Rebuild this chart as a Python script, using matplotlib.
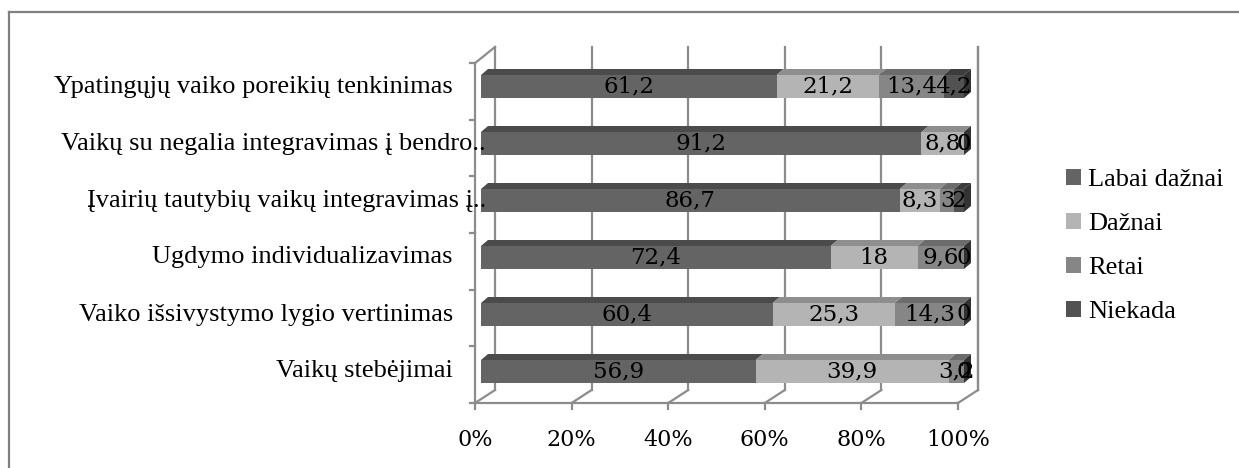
import matplotlib
matplotlib.use("Agg")
import matplotlib.pyplot as plt
from matplotlib.patches import Polygon
from matplotlib.lines import Line2D
import numpy as np

# data, top row first
categories = [
    "Ypatingųjų vaiko poreikių tenkinimas",
    "Vaikų su negalia integravimas į bendro..",
    "Įvairių tautybių vaikų integravimas į..",
    "Ugdymo individualizavimas",
    "Vaiko išsivystymo lygio vertinimas",
    "Vaikų stebėjimai",
]
series_names = ["Labai dažnai", "Dažnai", "Retai", "Niekada"]
labai_daznai = [61.2, 91.2, 86.7, 72.4, 60.4, 56.9]
daznai = [21.2, 8.8, 8.3, 18, 25.3, 39.9]
retai = [13.4, 0, 3, 9.6, 14.3, 3.2]
niekada = [4.2, 0, 2, 0, 0, 0]
x_ticks = [0, 20, 40, 60, 80, 100]

front_colors = ["#646464", "#b4b4b4", "#868686", "#525252"]
top_colors = ["#4b4b4b", "#8e8e8e", "#6c6c6c", "#3c3c3c"]
side_color = "#333333"
grid_color = "#8c8c8c"

W, H = 1239, 468
fig = plt.figure(figsize=(W / 100, H / 100), dpi=100)

# axes placed so data x=0 -> 481px, x=100 -> 964px ; y row0 -> 371.5px, 57px per row
xlim = (-2, 104)
ylim = (-0.7, 5.8)
px_x = 4.83
px_y = 57
left_px = 481 + xlim[0] * px_x
right_px = 481 + xlim[1] * px_x
bot_px = 371.5 - ylim[0] * px_y
top_px = 371.5 - ylim[1] * px_y
ax = fig.add_axes([left_px / W, 1 - bot_px / H, (right_px - left_px) / W, (bot_px - top_px) / H])
ax.set_xlim(*xlim)
ax.set_ylim(*ylim)
ax.axis("off")

# 3d geometry (data units)
dx, dy = 7 / px_x, 6 / px_y
front_off = -6 / px_x      # front floor / wall plane
back_off = 14 / px_x       # back wall plane
floor_front = -0.553
floor_back = -0.325
wall_top_back = 5.693
wall_top_front = 5.41
lw = 1.6

# back wall gridlines + floor
for p in x_ticks:
    ax.plot([p + back_off, p + back_off], [floor_back, wall_top_back], color=grid_color, lw=lw, zorder=0, clip_on=False)
    ax.plot([p + front_off, p + back_off], [floor_front, floor_back], color=grid_color, lw=lw, zorder=0, clip_on=False)
    ax.plot([p + front_off, p + front_off], [floor_front, floor_front - 0.1], color=grid_color, lw=lw, zorder=0, clip_on=False)
    ax.text(p + front_off, floor_front - 0.64, f"{p}%", ha="center", va="center",
            fontsize=16, family="DejaVu Serif", clip_on=False)
ax.plot([x_ticks[0] + front_off, x_ticks[-1] + front_off], [floor_front, floor_front],
        color=grid_color, lw=lw, zorder=0, clip_on=False)
ax.plot([x_ticks[-1] + back_off, x_ticks[-1] + back_off], [floor_back, wall_top_back],
        color=grid_color, lw=lw, zorder=0, clip_on=False)

# left wall
ax.plot([front_off, front_off], [floor_front, wall_top_front], color=grid_color, lw=lw, zorder=0, clip_on=False)
ax.plot([front_off, back_off], [wall_top_front, wall_top_back], color=grid_color, lw=lw, zorder=0, clip_on=False)
for yt in np.linspace(floor_front, wall_top_front, len(categories) + 1):
    ax.plot([front_off - 1.1, front_off], [yt, yt], color=grid_color, lw=lw, zorder=0, clip_on=False)

# bars
n = len(categories)
ypos = np.arange(n)[::-1]
all_series = [labai_daznai, daznai, retai, niekada]
bar_h = 23 / px_y
left = np.zeros(n)
for k, vals in enumerate(all_series):
    vals = np.array(vals, dtype=float)
    ax.barh(ypos, vals, left=left, height=bar_h, color=front_colors[k], zorder=3,
            label=series_names[k], linewidth=0)
    for y, l, v in zip(ypos, left, vals):
        if v > 0:
            t = y + bar_h / 2
            ax.add_patch(Polygon([(l, t), (l + dx, t + dy), (l + v + dx, t + dy), (l + v, t)],
                                 closed=True, facecolor=top_colors[k], edgecolor="none", zorder=3))
    left = left + vals

# right side faces and value labels
for y, total in zip(ypos, left):
    b, t = y - bar_h / 2, y + bar_h / 2
    ax.add_patch(Polygon([(total, b), (total + dx, b + dy), (total + dx, t + dy), (total, t)],
                         closed=True, facecolor=side_color, edgecolor="none", zorder=3))

left = np.zeros(n)
for vals in all_series:
    for y, l, v in zip(ypos, left, vals):
        txt = f"{v:g}".replace(".", ",")
        ax.text(l + v / 2, y, txt, ha="center", va="center", fontsize=16.5,
                family="DejaVu Serif", zorder=5)
    left = left + np.array(vals, dtype=float)

# category labels
for y, c in zip(ypos, categories):
    x_end = 486 if c.endswith("..") else 453
    ax.text((x_end - 481) / px_x, y, c, ha="right", va="center", fontsize=19,
            family="Liberation Serif", clip_on=False)

# legend
handles = [plt.Rectangle((0, 0), 1, 1, facecolor=c, edgecolor="none") for c in front_colors]
fig.legend(handles, series_names, loc="center left", bbox_to_anchor=(1066 / W, 1 - 246 / H),
           frameon=False, prop={"family": "Liberation Serif", "size": 19},
           handlelength=0.55, handleheight=0.55, handletextpad=0.3, labelspacing=0.82,
           borderpad=0, borderaxespad=0)

# chart area border (top and left only visible)
fig.add_artist(Line2D([8.5 / W, 1], [1 - 11.5 / H, 1 - 11.5 / H], transform=fig.transFigure, color="#808080", lw=1.6))
fig.add_artist(Line2D([8.5 / W, 8.5 / W], [0, 1 - 11.5 / H], transform=fig.transFigure, color="#808080", lw=1.6))

fig.savefig("out.png", dpi=100, facecolor="white")
